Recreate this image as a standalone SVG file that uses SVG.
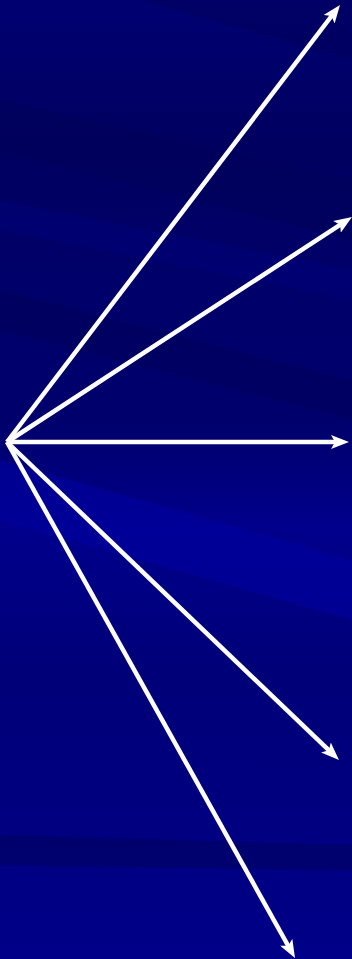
<svg xmlns="http://www.w3.org/2000/svg" width="352" height="959" viewBox="0 0 352 959">
<defs>
<linearGradient id="bg" x1="0" y1="0" x2="0" y2="1">
<stop offset="0" stop-color="#000072"/>
<stop offset="0.15" stop-color="#000060"/>
<stop offset="0.3" stop-color="#00006a"/>
<stop offset="0.45" stop-color="#00006e"/>
<stop offset="0.55" stop-color="#00008c"/>
<stop offset="0.7" stop-color="#000078"/>
<stop offset="0.85" stop-color="#000080"/>
<stop offset="1" stop-color="#000088"/>
</linearGradient>
<marker id="ah" viewBox="0 0 18 14" markerWidth="18" markerHeight="14" refX="6" refY="7" orient="auto" markerUnits="userSpaceOnUse">
<path d="M0,0 L18,7 L0,14 L4,7 Z" fill="#ffffff"/>
</marker>
<style>
.arr{stroke:#ffffff;stroke-width:4.5;fill:none;marker-end:url(#ah)}
</style>
</defs>
<g id="background">
<rect x="0" y="0" width="352" height="959" fill="url(#bg)"/>
<polygon points="0,100 352,180 352,240 0,150" fill="#000058" opacity="0.5"/>
<polygon points="0,290 352,380 352,420 0,330" fill="#000058" opacity="0.5"/>
<polygon points="0,460 352,560 352,620 0,520" fill="#0000a0" opacity="0.6"/>
<polygon points="0,200 352,270 352,300 0,230" fill="#000080" opacity="0.4"/>
<polygon points="0,835 352,845 352,870 0,865" fill="#000060" opacity="0.6"/>
<polygon points="140,0 352,0 352,60" fill="#00005a" opacity="0.5"/>
</g>
<g id="connectors">
<line class="arr" x1="7" y1="442" x2="332.7" y2="14.5"/>
<line class="arr" x1="7" y1="442" x2="341.95" y2="223.6"/>
<line class="arr" x1="7" y1="442" x2="337" y2="442"/>
<line class="arr" x1="7" y1="442" x2="330.3" y2="751.7"/>
<line class="arr" x1="7" y1="442" x2="289.15" y2="947.5"/>
</g>
</svg>
